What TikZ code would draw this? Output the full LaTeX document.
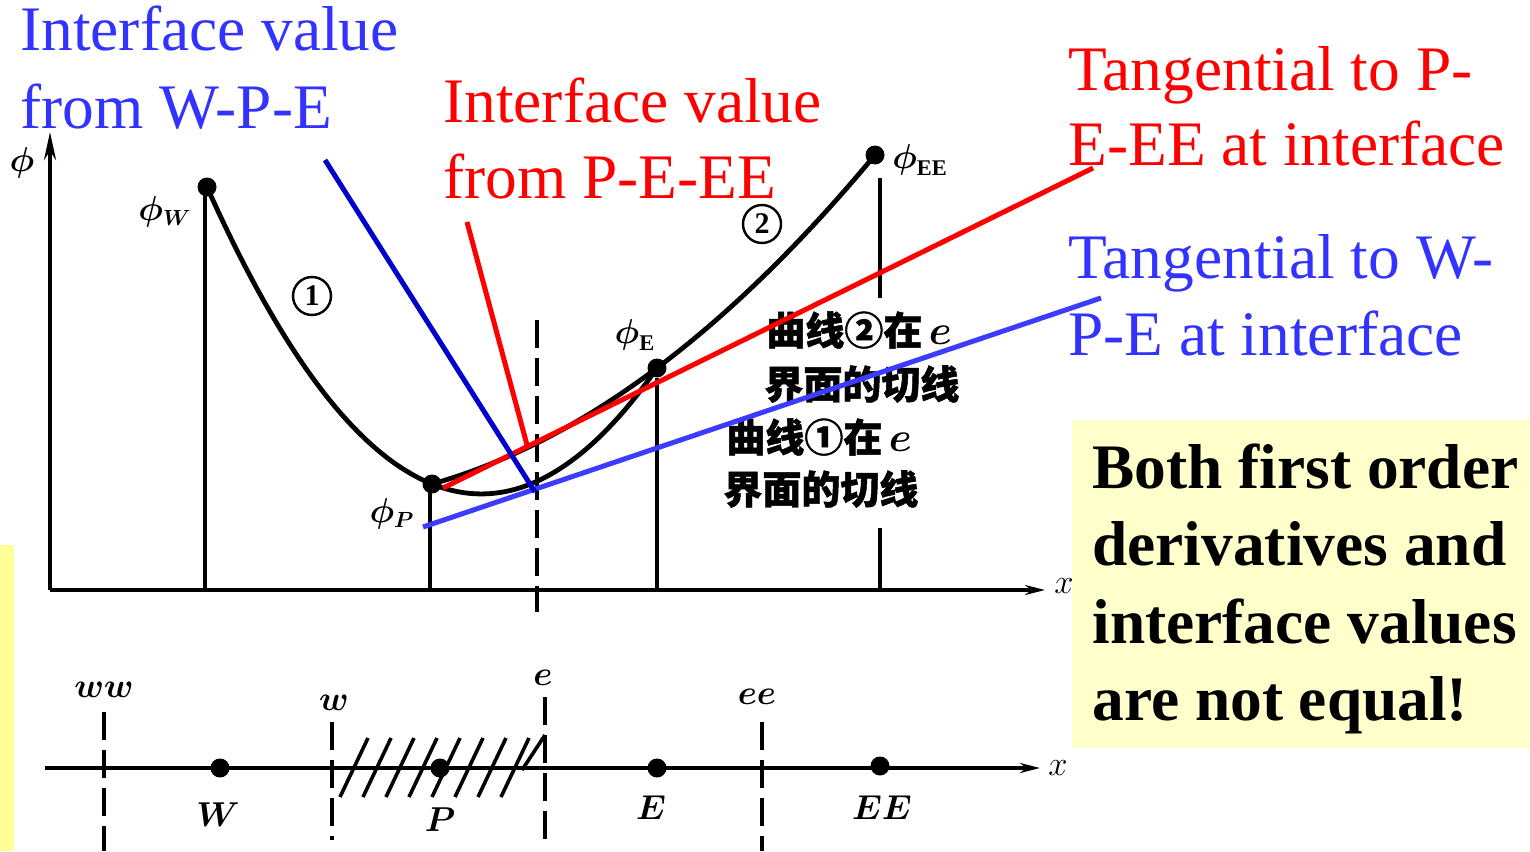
\documentclass[tikz,border=0pt]{standalone}
\usepackage{amsmath}
\usepackage{fontspec}
\setmainfont{Liberation Serif}
\newfontfamily\cjk[FakeBold=1.2]{Noto Sans CJK SC}
\usetikzlibrary{arrows.meta}
\definecolor{tblue}{RGB}{51,51,255}
\definecolor{dblue}{RGB}{0,0,204}
\definecolor{lblue}{RGB}{60,60,255}
\definecolor{tred}{RGB}{255,0,0}
\definecolor{boxyellow}{RGB}{255,255,204}
\definecolor{stripyellow}{RGB}{255,255,153}
\tikzset{
  bigtext/.style={anchor=base west, inner sep=0pt, text depth=0pt, font=\fontsize{31.7}{39}\selectfont},
  boxtext/.style={anchor=base west, inner sep=0pt, font=\fontsize{31.7}{39}\selectfont\bfseries},
  cjktext/.style={anchor=west, inner sep=0pt, font=\fontsize{19.5}{22}\selectfont\cjk\bfseries},
  axis/.style={line width=2pt, black},
  guide/.style={line width=1.6pt, black},
  dashguide/.style={line width=1.6pt, black, dash pattern=on 14pt off 5pt},
  curve/.style={line width=2.4pt, black},
  tang/.style={line width=2.5pt},
  ptr/.style={line width=2.5pt},
  pt/.style={circle, fill=black, inner sep=0pt, minimum size=9.5pt},
  lab/.style={inner sep=0pt, font=\fontsize{16}{18}\selectfont},
  blab/.style={inner sep=0pt, font=\fontsize{18}{20}\selectfont},
  circnum/.style={circle, draw, line width=1.2pt, inner sep=0pt, minimum size=19pt, font=\fontsize{15}{16}\selectfont\bfseries},
}
\begin{document}
\begin{tikzpicture}[x=0.5pt,y=-0.5pt]
\useasboundingbox (0,0) rectangle (1530,851);
\fill[white] (0,0) rectangle (1530,851);
% yellow regions
\fill[stripyellow] (0,545) rectangle (14,851);
\fill[boxyellow] (1072,420) rectangle (1530,748);

% --- top graph axes
\coordinate (yb) at (50,590);
\coordinate (yt) at (50,132);
\coordinate (xe) at (1045,590);
\draw[axis,-{Stealth[length=14pt,width=6pt]}] (yb) -- (yt);
\draw[axis,-{Stealth[length=10pt,width=5pt]}] (yb) -- (xe);
\node[lab] (phi) at (22,163) {$\boldsymbol{\phi}$};
\node[lab] (xl1) at (1064,586) {$x$};

% points
\node[pt] (PW) at (207,187) {};
\node[pt] (PP) at (432,484) {};
\node[pt] (PE) at (657,368) {};
\node[pt] (PEE) at (875,155) {};
\node[lab] (lW) at (165,212) {$\boldsymbol{\phi_W}$};
\node[lab] (lP) at (392,514) {$\boldsymbol{\phi_P}$};
\node[lab] (lE) at (635,335) {$\boldsymbol{\phi}_{\mathbf{E}}$};
\node[lab] (lEE) at (920,160) {$\boldsymbol{\phi}_{\mathbf{EE}}$};

% verticals
\coordinate (bW) at (205,590);
\coordinate (bP) at (430,590);
\coordinate (bE) at (657,590);
\draw[guide] (205,190) -- (bW);
\draw[guide] (430,488) -- (bP);
\draw[guide] (PE) -- (bE);
\coordinate (ee1) at (880,178); \coordinate (ee2) at (880,298);
\coordinate (ee3) at (880,528); \coordinate (ee4) at (880,590);
\draw[guide] (ee1) -- (ee2);
\draw[guide] (ee3) -- (ee4);
\coordinate (et) at (537,320); \coordinate (eb) at (537,612);
\draw[dashguide] (et) -- (eb);

% curves
\draw[curve] plot[domain=207:657, samples=80, smooth] (\x, {484 + 40.22*((\x-432)/100) - 40.79*((\x-432)/100)^2});
\draw[curve] plot[domain=432:875, samples=80, smooth] (\x, {484 - 28.12*((\x-432)/100) - 10.42*((\x-432)/100)^2});
\node[circnum] (c1) at (312,296) {1};
\node[circnum] (c2) at (762,224) {2};

% Chinese annotations
\node[cjktext] (z1) at (766,330) {曲线②在\,{\rmfamily$\boldsymbol{e}$}};
\node[cjktext] (z2) at (764,384) {界面的切线};
\node[cjktext] (z3) at (726,437) {曲线①在\,{\rmfamily$\boldsymbol{e}$}};
\node[cjktext] (z4) at (723,489) {界面的切线};

% tangents
\coordinate (rt1) at (443,488); \coordinate (rt2) at (1093,168);
\draw[tang, tred] (rt1) -- (rt2);
\coordinate (bt1) at (423,527); \coordinate (bt2) at (1101,298);
\draw[tang, lblue] (bt1) -- (bt2);

% pointers
\coordinate (bp1) at (325,160); \coordinate (bp2) at (535,492);
\draw[ptr, dblue] (bp1) -- (bp2);
\coordinate (rp1) at (467,222); \coordinate (rp2) at (527,445);
\draw[ptr, tred] (rp1) -- (rp2);

% texts
\node[bigtext, text=tblue] (t1a) at (20,50) {Interface value};
\node[bigtext, text=tblue] (t1b) at (20,128) {from W-P-E};
\node[bigtext, text=tred] (t2a) at (443,122) {Interface value};
\node[bigtext, text=tred] (t2b) at (443,198) {from P-E-EE};
\node[bigtext, text=tred] (t3a) at (1068,90) {Tangential to P-};
\node[bigtext, text=tred] (t3b) at (1068,165) {E-EE at interface};
\node[bigtext, text=tblue] (t4a) at (1068,278) {Tangential to W-};
\node[bigtext, text=tblue] (t4b) at (1068,355) {P-E at interface};
\node[boxtext] (b1) at (1092,488) {Both first order};
\node[boxtext] (b2) at (1092,565) {derivatives and};
\node[boxtext] (b3) at (1092,643) {interface values};
\node[boxtext] (b4) at (1092,720) {are not equal!};

% --- bottom grid line
\coordinate (gl) at (45,768); \coordinate (gr) at (1040,768);
\draw[axis,-{Stealth[length=10pt,width=5pt]}] (gl) -- (gr);
\node[lab] (xl2) at (1058,768) {$x$};
% hatching
\foreach \k in {0,...,7} {
  \draw[line width=1.8pt] (340+23*\k,797) -- (368+23*\k,738);
}
\draw[line width=1.8pt] (522,770) -- (545,735);
% dashed faces
\coordinate (ww1) at (104,712); \coordinate (ww2) at (104,851);
\coordinate (w1) at (332,722); \coordinate (w2) at (332,840);
\coordinate (e1) at (545,697); \coordinate (e2) at (545,840);
\coordinate (eee1) at (762,722); \coordinate (eee2) at (762,851);
\draw[dashguide] (ww1) -- (ww2);
\draw[dashguide] (w1) -- (w2);
\draw[dashguide] (e1) -- (e2);
\draw[dashguide] (eee1) -- (eee2);
\node[lab] (lww) at (104,690) {$\boldsymbol{ww}$};
\node[lab] (lw) at (334,703) {$\boldsymbol{w}$};
\node[lab] (le) at (543,678) {$\boldsymbol{e}$};
\node[lab] (lee) at (757,697) {$\boldsymbol{ee}$};
% nodes
\node[pt] (nW) at (220,768) {};
\node[pt] (nP) at (440,768) {};
\node[pt] (nE) at (657,768) {};
\node[pt] (nEE) at (880,766) {};
\node[blab] (lnW) at (218,815) {$\boldsymbol{W}$};
\node[blab] (lnP) at (440,820) {$\boldsymbol{P}$};
\node[blab] (lnE) at (651,808) {$\boldsymbol{E}$};
\node[blab] (lnEE) at (882,808) {$\boldsymbol{EE}$};
\end{tikzpicture}
\end{document}
